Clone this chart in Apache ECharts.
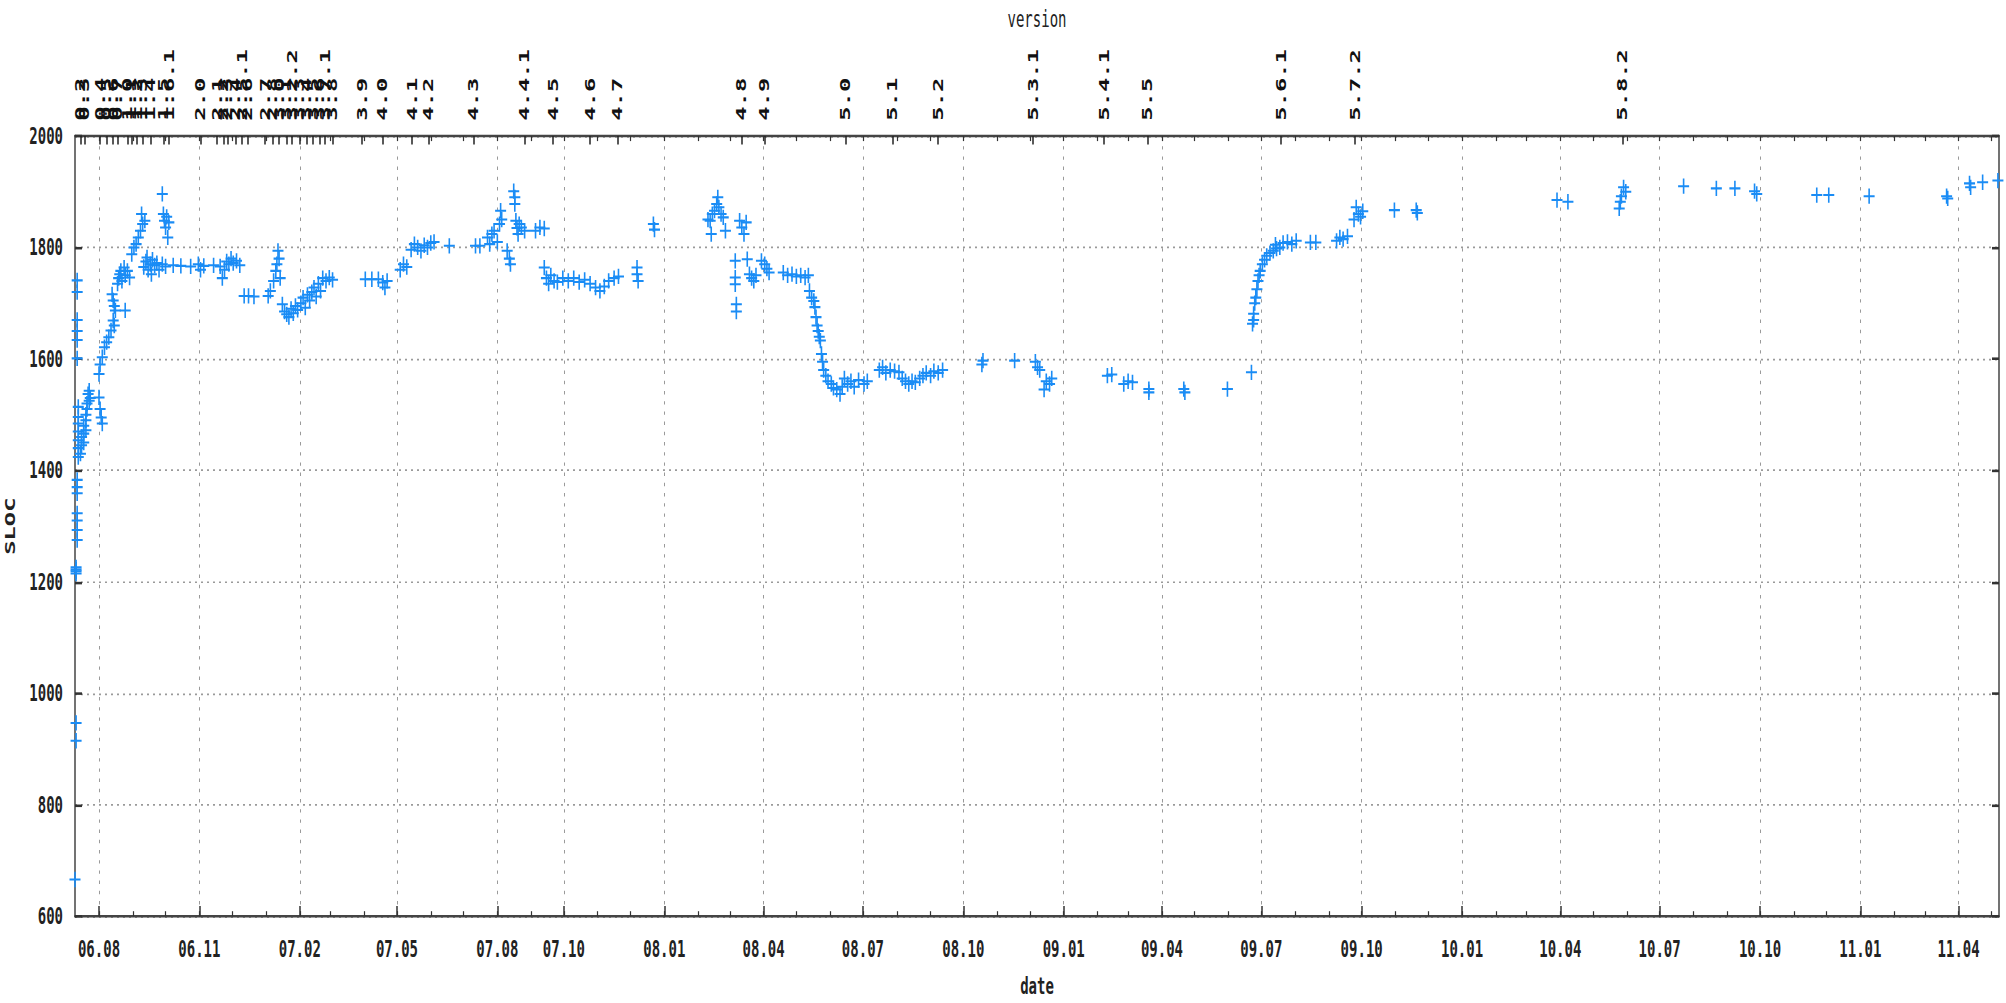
<!DOCTYPE html>
<html>
<head>
<meta charset="utf-8">
<script src="https://cdn.jsdelivr.net/npm/echarts@6/dist/echarts.min.js"></script>
<style>
html,body{margin:0;padding:0;background:#fff;width:2006px;height:1003px;overflow:hidden;}
#wrap{position:relative;width:2006px;height:1003px;overflow:hidden;background:#fff;}
#chart{position:absolute;left:0;top:0;width:2006px;height:590px;transform:scaleY(1.7);transform-origin:0 0;}
</style>
</head>
<body>
<div id="wrap"><div id="chart"></div></div>
<script>
// ---------- data (date, SLOC) ----------
const slocJul2006 = [
['2006-07-10',666],['2006-07-11',915],['2006-07-11',947],['2006-07-11',1215],['2006-07-11',1219],['2006-07-11',1222],['2006-07-11',1226],
['2006-07-12',1275],['2006-07-12',1293],['2006-07-12',1310],['2006-07-12',1323],['2006-07-12',1359],['2006-07-12',1370],['2006-07-12',1383],
['2006-07-13',1424],['2006-07-13',1440],['2006-07-13',1454],['2006-07-13',1470],['2006-07-13',1484],['2006-07-13',1496],['2006-07-13',1514],
['2006-07-12',1601],['2006-07-12',1634],['2006-07-12',1650],['2006-07-12',1670],['2006-07-12',1720],['2006-07-12',1741],
['2006-07-15',1430],['2006-07-16',1445],['2006-07-16',1460],['2006-07-18',1450],['2006-07-18',1466],['2006-07-18',1480],
['2006-07-20',1472],['2006-07-20',1490],['2006-07-20',1500],['2006-07-21',1510],['2006-07-21',1520],['2006-07-22',1537],
['2006-07-23',1525],['2006-07-23',1543],['2006-07-24',1530]
];
const slocAug2006 = [
['2006-08-01',1531],['2006-08-02',1510],['2006-08-03',1495],['2006-08-04',1484],
['2006-08-01',1573],['2006-08-02',1590],['2006-08-04',1603],['2006-08-06',1621],['2006-08-08',1630],['2006-08-10',1639],
['2006-08-12',1651],['2006-08-14',1669],['2006-08-15',1660],
['2006-08-13',1716],['2006-08-14',1705],['2006-08-15',1695],['2006-08-16',1687],['2006-08-25',1687],
['2006-08-18',1735],['2006-08-19',1745],['2006-08-20',1752],['2006-08-21',1758],['2006-08-22',1740],['2006-08-24',1764],
['2006-08-25',1750],['2006-08-27',1758],['2006-08-29',1746],['2006-08-31',1788]
];
const slocSep2006 = [
['2006-09-02',1800],['2006-09-04',1806],['2006-09-06',1818],['2006-09-08',1830],['2006-09-09',1860],['2006-09-10',1842],['2006-09-12',1848],
['2006-09-11',1765],['2006-09-13',1775],['2006-09-14',1782],['2006-09-15',1760],['2006-09-17',1770],['2006-09-18',1752],['2006-09-19',1778],
['2006-09-21',1768],['2006-09-23',1772],['2006-09-25',1760],['2006-09-28',1770],
['2006-09-28',1896],['2006-09-29',1860],['2006-09-30',1848]
];
const slocQ4_2006 = [
['2006-10-01',1836],['2006-10-01',1766],['2006-10-02',1855],['2006-10-03',1818],['2006-10-04',1845],
['2006-10-08',1768],['2006-10-15',1767],['2006-10-24',1766],['2006-10-31',1770],['2006-11-02',1760],['2006-11-05',1767],
['2006-11-14',1768],['2006-11-20',1766],['2006-11-22',1745],['2006-11-24',1760],['2006-11-26',1775],['2006-11-28',1770],
['2006-11-30',1780],['2006-12-02',1772],['2006-12-05',1776],['2006-12-08',1768],
['2006-12-12',1713],['2006-12-16',1713],['2006-12-21',1712]
];
const sloc2007 = [
['2007-01-03',1713],['2007-01-05',1722],['2007-01-08',1740],['2007-01-10',1758],['2007-01-11',1770],['2007-01-12',1794],['2007-01-13',1780],['2007-01-14',1745],
['2007-01-16',1698],['2007-01-18',1685],['2007-01-20',1680],['2007-01-22',1675],['2007-01-24',1690],['2007-01-26',1682],['2007-01-28',1695],['2007-01-30',1688],
['2007-02-02',1700],['2007-02-04',1710],['2007-02-06',1692],['2007-02-08',1715],['2007-02-10',1705],['2007-02-12',1720],['2007-02-14',1728],['2007-02-16',1712],
['2007-02-18',1735],['2007-02-20',1722],['2007-02-22',1745],['2007-02-25',1740],['2007-02-28',1746],['2007-03-03',1742],
['2007-04-02',1743],['2007-04-08',1743],['2007-04-14',1743],['2007-04-18',1737],['2007-04-20',1728],['2007-04-22',1740],
['2007-05-04',1760],['2007-05-07',1770],['2007-05-10',1765],
['2007-05-14',1796],['2007-05-17',1806],['2007-05-20',1800],['2007-05-23',1794],['2007-05-26',1804],['2007-05-29',1800],['2007-06-01',1808],['2007-06-04',1810],
['2007-06-18',1803],['2007-07-12',1803],['2007-07-16',1803],
['2007-07-23',1818],['2007-07-25',1806],['2007-07-27',1824],['2007-07-29',1830],['2007-08-01',1810],
['2007-08-03',1842],['2007-08-04',1866],['2007-08-05',1850],
['2007-08-10',1794],['2007-08-12',1780],['2007-08-13',1770],
['2007-08-16',1901],['2007-08-17',1890],['2007-08-17',1878],['2007-08-18',1848],['2007-08-19',1835],['2007-08-20',1824],['2007-08-21',1842],
['2007-08-23',1836],['2007-08-26',1830],
['2007-09-05',1830],['2007-09-09',1836],['2007-09-13',1834],
['2007-09-13',1764],['2007-09-15',1745],['2007-09-17',1735],['2007-09-19',1750],['2007-09-22',1740],['2007-09-25',1738],
['2007-09-30',1745],['2007-10-05',1740],['2007-10-10',1745],['2007-10-15',1738],['2007-10-20',1742],['2007-10-25',1735],
['2007-10-30',1728],['2007-11-03',1722],['2007-11-07',1730],['2007-11-11',1740],['2007-11-16',1745],['2007-11-20',1748],
['2007-12-07',1764],['2007-12-07',1752],['2007-12-08',1740],['2007-12-22',1842],['2007-12-23',1832]
];
const sloc2008 = [
['2008-02-10',1850],['2008-02-12',1848],['2008-02-13',1824],['2008-02-14',1860],['2008-02-16',1866],['2008-02-18',1878],['2008-02-19',1890],
['2008-02-20',1872],['2008-02-22',1860],['2008-02-24',1854],['2008-02-26',1830],
['2008-03-06',1776],['2008-03-06',1746],['2008-03-06',1734],['2008-03-07',1698],['2008-03-07',1685],
['2008-03-10',1848],['2008-03-12',1836],['2008-03-14',1824],['2008-03-16',1845],['2008-03-17',1779],
['2008-03-19',1752],['2008-03-21',1745],['2008-03-23',1740],['2008-03-25',1750],
['2008-03-30',1776],['2008-04-02',1770],['2008-04-04',1762],['2008-04-06',1755],
['2008-04-19',1755],['2008-04-23',1750],['2008-04-27',1752],['2008-05-01',1748],['2008-05-05',1750],['2008-05-09',1746],['2008-05-12',1750],
['2008-05-13',1722],['2008-05-15',1710],['2008-05-17',1704],
['2008-05-18',1693],['2008-05-19',1675],['2008-05-20',1660],['2008-05-21',1650],['2008-05-22',1640],['2008-05-23',1633],
['2008-05-24',1609],['2008-05-25',1595],['2008-05-26',1580],
['2008-05-28',1570],['2008-05-30',1560],['2008-06-02',1555],['2008-06-04',1548],['2008-06-07',1545],['2008-06-10',1537],['2008-06-12',1550],
['2008-06-14',1565],['2008-06-17',1555],['2008-06-20',1560],['2008-06-23',1550],['2008-06-27',1562],['2008-07-02',1555],['2008-07-05',1560],
['2008-07-16',1580],['2008-07-19',1585],['2008-07-22',1575],['2008-07-26',1580],['2008-07-30',1578],['2008-08-03',1576],
['2008-08-06',1565],['2008-08-09',1560],['2008-08-12',1555],['2008-08-15',1560],['2008-08-18',1558],['2008-08-22',1565],['2008-08-25',1570],
['2008-08-28',1575],['2008-09-01',1570],['2008-09-04',1578],['2008-09-08',1575],['2008-09-12',1580],
['2008-10-18',1590],['2008-10-19',1597],['2008-11-17',1597],
['2008-12-06',1595],['2008-12-08',1585],['2008-12-10',1580],['2008-12-14',1545],['2008-12-16',1560],['2008-12-19',1555],['2008-12-21',1565]
];
const sloc2009 = [
['2009-02-10',1570],['2009-02-14',1572],['2009-02-25',1555],['2009-03-01',1560],['2009-03-05',1558],
['2009-03-20',1546],['2009-03-20',1540],['2009-04-21',1546],['2009-04-22',1540],['2009-05-31',1546],
['2009-06-22',1576],
['2009-06-23',1663],['2009-06-24',1670],['2009-06-24',1681],['2009-06-25',1700],['2009-06-26',1710],['2009-06-27',1725],['2009-06-28',1740],
['2009-06-29',1750],['2009-06-30',1758],
['2009-07-02',1770],['2009-07-04',1778],['2009-07-06',1785],['2009-07-09',1790],['2009-07-12',1794],['2009-07-15',1798],
['2009-07-14',1805],['2009-07-18',1800],['2009-07-21',1808],['2009-07-25',1810],['2009-07-29',1806],['2009-08-02',1812],
['2009-08-15',1809],['2009-08-20',1809],
['2009-09-08',1812],['2009-09-11',1818],['2009-09-14',1815],['2009-09-18',1820],
['2009-09-24',1850],['2009-09-26',1872],['2009-09-28',1860],['2009-09-30',1855],['2009-10-02',1865],
['2009-10-31',1867],['2009-11-20',1867],['2009-11-21',1862]
];
const sloc2010 = [
['2010-03-29',1885],['2010-04-08',1882],
['2010-05-25',1870],['2010-05-26',1882],['2010-05-27',1892],['2010-05-29',1908],['2010-05-31',1900],
['2010-07-23',1910],['2010-08-22',1906],['2010-09-08',1906],['2010-09-26',1901],['2010-09-28',1896],
['2010-11-22',1894],['2010-12-03',1894],
['2011-01-09',1892],['2011-03-21',1892],['2011-03-22',1888],['2011-04-11',1915],['2011-04-12',1908],['2011-04-23',1917],['2011-05-07',1920]
];

// ---------- version releases (top axis) ----------
const versionDates = ['2006-07-13','2006-07-15','2006-07-19','2006-08-02','2006-08-08','2006-08-14','2006-08-18','2006-08-27','2006-08-31',
'2006-09-05','2006-09-10','2006-09-17','2006-09-29','2006-10-04','2006-11-02','2006-11-17','2006-11-23','2006-11-27','2006-12-04',
'2006-12-10','2006-12-15','2006-12-31','2007-01-07','2007-01-13','2007-01-20','2007-01-25','2007-02-01','2007-02-07','2007-02-13',
'2007-02-19','2007-02-24','2007-03-03','2007-03-30','2007-04-18','2007-05-15','2007-05-30','2007-07-10','2007-08-26','2007-09-21',
'2007-10-25','2007-11-19','2008-03-12','2008-04-02','2008-06-15','2008-07-28','2008-09-08','2008-12-04','2009-02-07','2009-03-19',
'2009-07-19','2009-09-25','2010-05-28'];
const versionNames = ['0.1','0.2','0.3','0.4','0.5','0.6','0.7','1.0','1.1','1.2','1.3','1.4','1.5','1.6.1','2.0','2.1','2.2','2.3','2.4',
'2.5.1','2.6','2.7','2.8','3.0','3.1','3.2.2','3.3','3.4','3.5','3.6','3.7.1','3.8','3.9','4.0','4.1','4.2','4.3','4.4.1','4.5','4.6','4.7',
'4.8','4.9','5.0','5.1','5.2','5.3.1','5.4.1','5.5','5.6.1','5.7.2','5.8.2'];

// ---------- axes ----------
const dateTickDates = ['2006-08-01','2006-11-01','2007-02-01','2007-05-01','2007-08-01','2007-10-01','2008-01-01','2008-04-01',
'2008-07-01','2008-10-01','2009-01-01','2009-04-01','2009-07-01','2009-10-01','2010-01-01','2010-04-01','2010-07-01',
'2010-10-01','2011-01-01','2011-04-01'];
const xMinDate = '2006-07-10';
const xMaxDate = '2011-05-08';
const yMin = 600, yMax = 2000, yStep = 200;

function ts(s){ const p = s.split('-').map(Number); return Date.UTC(p[0], p[1]-1, p[2]); }
function two(n){ return (n < 10 ? '0' : '') + n; }
function fmtYM(v){ const d = new Date(v); return two(d.getUTCFullYear() % 100) + '.' + two(d.getUTCMonth() + 1); }

const allPoints = [].concat(slocJul2006, slocAug2006, slocSep2006, slocQ4_2006, sloc2007, sloc2008, sloc2009, sloc2010)
  .map(p => [ts(p[0]), p[1]]);
const majorTicks = dateTickDates.map(ts);
const versionTicks = versionDates.map(ts);
const versionMap = {};
versionTicks.forEach((t, i) => { versionMap[t] = versionNames[i]; });
const monthTicks = [];
for (let y = 2006, m = 7; y < 2011 || (y === 2011 && m <= 4); ) {
  monthTicks.push(Date.UTC(y, m, 1));
  m++; if (m > 11) { m = 0; y++; }
}
const xMin = ts(xMinDate), xMax = ts(xMaxDate);

const txt = { color: '#222', fontFamily: 'DejaVu Sans Mono', fontSize: 14, fontWeight: 'bold' };
const border = { show: true, lineStyle: { color: '#444', width: 1.5 } };
const grid = { show: true, lineStyle: { color: '#9a9a9a', width: 1, type: [2, 4] } };
const plus = 'path://M0 3.9H11V5.1H0Z M4.7 0H6.3V9H4.7Z';

function xAx(extra){
  return Object.assign({ type: 'value', min: xMin, max: xMax, scale: true,
    axisLine: { show: false }, axisLabel: { show: false }, splitLine: { show: false }, minorTick: { show: false } }, extra);
}

const chart = echarts.init(document.getElementById('chart'), null, { renderer: 'svg', width: 2006, height: 590 });
chart.setOption({
  animation: false,
  backgroundColor: '#ffffff',
  grid: { left: 75, right: 7, top: 80, bottom: 51, containLabel: false, outerBoundsMode: 'none' },
  xAxis: [
    xAx({ position: 'bottom',
      name: 'date', nameLocation: 'middle', nameGap: 34, nameTextStyle: txt, nameMoveOverlap: false,
      axisLine: border,
      axisTick: { show: true, inside: true, length: 6, customValues: majorTicks, lineStyle: { color: '#333', width: 1.5 } },
      axisLabel: Object.assign({ show: true, customValues: majorTicks, formatter: fmtYM, margin: 12, hideOverlap: false }, txt),
      splitLine: grid }),
    xAx({ position: 'bottom',
      axisTick: { show: true, inside: true, length: 3, customValues: monthTicks, lineStyle: { color: '#333', width: 1.2 } } }),
    xAx({ position: 'top',
      name: 'version', nameLocation: 'middle', nameGap: 62, nameTextStyle: Object.assign({}, txt, { fontWeight: 'normal' }), nameMoveOverlap: false,
      axisLine: border,
      axisTick: { show: true, inside: true, length: 5, customValues: versionTicks, lineStyle: { color: '#222', width: 1.5 } },
      axisLabel: Object.assign({ show: true, customValues: versionTicks, rotate: -90, margin: 9, hideOverlap: false,
        formatter: v => versionMap[v] || '' }, txt, { color: '#111' }) }),
    xAx({ position: 'top',
      axisTick: { show: true, inside: true, length: 3, customValues: monthTicks, lineStyle: { color: '#333', width: 1.2 } } })
  ],
  yAxis: [
    { type: 'value', position: 'left', min: yMin, max: yMax, interval: yStep,
      name: 'SLOC', nameLocation: 'middle', nameGap: 58, nameTextStyle: txt, nameMoveOverlap: false,
      axisLine: border,
      axisTick: { show: true, inside: true, length: 7, lineStyle: { color: '#333', width: 1.5 } },
      axisLabel: Object.assign({ margin: 12, formatter: v => String(v) }, txt),
      splitLine: grid },
    { type: 'value', position: 'right', min: yMin, max: yMax, interval: yStep,
      axisLine: border,
      axisTick: { show: true, inside: true, length: 7, lineStyle: { color: '#333', width: 1.5 } },
      axisLabel: { show: false }, splitLine: { show: false } }
  ],
  series: [{
    type: 'scatter', xAxisIndex: 0, yAxisIndex: 0, data: allPoints,
    symbol: plus, symbolSize: [11, 9], silent: true,
    itemStyle: { color: '#1a8cf5', opacity: 1 }
  }]
});
</script>
</body>
</html>
